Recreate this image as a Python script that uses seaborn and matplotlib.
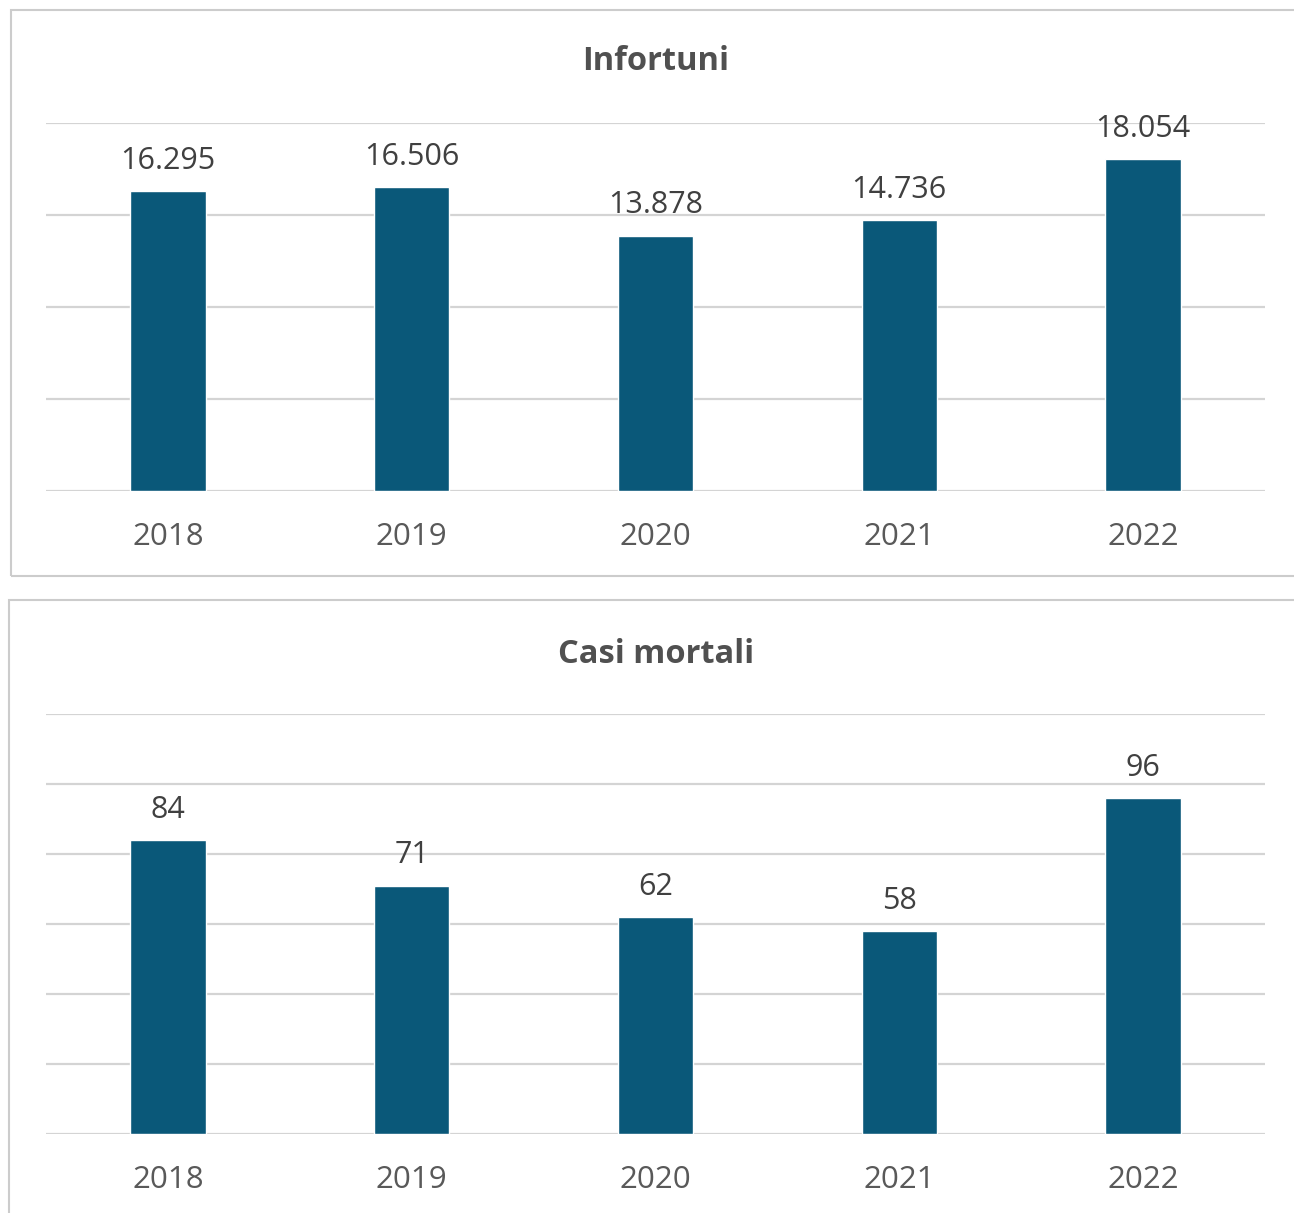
import numpy as np
import matplotlib
matplotlib.use("Agg")
import matplotlib.pyplot as plt
from matplotlib.patches import Rectangle
import seaborn as sns
import pandas as pd

#%%
years = ["2018", "2019", "2020", "2021", "2022"]
infortuni = [16295, 16506, 13878, 14736, 18054]
casi_mortali = [84, 71, 62, 58, 96]

sns.set_theme(style="white")
plt.rcParams['font.family'] = ['Open Sans', 'DejaVu Sans']

barcolor = '#0a5879'
gridcolor = '#d4d4d4'

W, H = 1294, 1213
fig = plt.figure(figsize=(W/100, H/100), dpi=100)

def fx(px):
    return px / W

def fy(py):
    return 1 - py / H

# panel boxes
fig.patches.append(Rectangle((fx(11), fy(576)), fx(1300-11), fy(10)-fy(576),
                             transform=fig.transFigure, fill=False,
                             ec='#cccccc', lw=1.5))
fig.patches.append(Rectangle((fx(9), fy(1220)), fx(1300-9), fy(600)-fy(1220),
                             transform=fig.transFigure, fill=False,
                             ec='#cccccc', lw=1.5))

left, right = fx(46), fx(1265)

def draw(ax, values, title, ymax, step, title_y):
    df = pd.DataFrame({"anno": years, "val": values})
    sns.barplot(data=df, x="anno", y="val", color=barcolor, width=0.31,
                saturation=1, ax=ax, zorder=3)
    ax.set_xlim(-0.5, 4.5)
    ax.set_ylim(0, ymax)
    ax.set_yticks(np.arange(0, ymax + 1, step))
    ax.set_yticklabels([])
    ax.yaxis.grid(True, color=gridcolor, lw=1.6)
    ax.set_axisbelow(True)
    for s in ax.spines.values():
        s.set_visible(False)
    ax.tick_params(axis='both', length=0)
    ax.tick_params(axis='x', labelsize=22.5, labelcolor='#595959', pad=22)
    ax.set_xlabel("")
    ax.set_ylabel("")
    for i, v in enumerate(values):
        ax.annotate(f"{v:,}".replace(",", "."), (i, v), xytext=(0, 11),
                    textcoords='offset points', ha='center', va='bottom',
                    fontsize=22, color='#404040')
    fig.text(0.507, title_y, title, ha='center', va='center',
             fontsize=23.5, fontweight='bold', color='#505050')

ax1 = fig.add_axes([left, fy(491), right-left, fy(123)-fy(491)])
draw(ax1, infortuni, "Infortuni", 20000, 5000, fy(61))

ax2 = fig.add_axes([left, fy(1134), right-left, fy(714)-fy(1134)])
draw(ax2, casi_mortali, "Casi mortali", 120, 20, fy(654))

fig.savefig("out.png", dpi=100)
